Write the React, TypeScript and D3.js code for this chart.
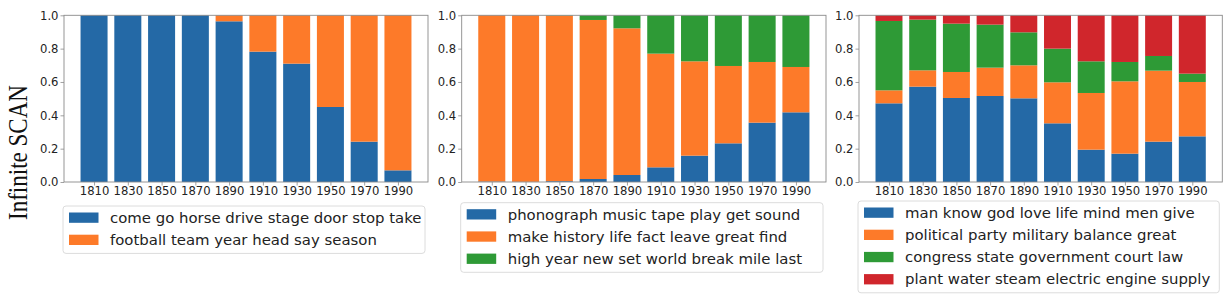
import React, { useEffect, useRef } from "react";
import * as d3 from "d3";

// decades on the x axis (same for all three panels)
const years = ["1810", "1830", "1850", "1870", "1890", "1910", "1930", "1950", "1970", "1990"];
const yTicks = [0, 0.2, 0.4, 0.6, 0.8, 1.0];

// panel 1 topics
const p1Labels = ["come go horse drive stage door stop take", "football team year head say season"];
const p1Blue = [1, 1, 1, 1, 0.964, 0.782, 0.71, 0.45, 0.242, 0.07];
const p1Orange = [0, 0, 0, 0, 0.036, 0.218, 0.29, 0.55, 0.758, 0.93];

// panel 2 topics
const p2Labels = [
  "phonograph music tape play get sound",
  "make history life fact leave great find",
  "high year new set world break mile last",
];
const p2Blue = [0.003, 0.001, 0.005, 0.018, 0.042, 0.088, 0.158, 0.232, 0.356, 0.418];
const p2Orange = [0.997, 0.999, 0.993, 0.954, 0.88, 0.682, 0.566, 0.464, 0.364, 0.272];
const p2Green = [0, 0, 0.002, 0.028, 0.078, 0.23, 0.276, 0.304, 0.28, 0.31];

// panel 3 topics
const p3Labels = [
  "man know god love life mind men give",
  "political party military balance great",
  "congress state government court law",
  "plant water steam electric engine supply",
];
const p3Blue = [0.472, 0.572, 0.504, 0.516, 0.502, 0.352, 0.194, 0.17, 0.242, 0.274];
const p3Orange = [0.078, 0.098, 0.156, 0.17, 0.198, 0.246, 0.34, 0.434, 0.426, 0.326];
const p3Green = [0.416, 0.304, 0.29, 0.258, 0.198, 0.202, 0.19, 0.116, 0.088, 0.05];
const p3Red = [0.034, 0.026, 0.05, 0.056, 0.102, 0.2, 0.276, 0.28, 0.244, 0.35];

// tab10, a bit darker like the scanned figure
const colors = ["#2469a6", "#fd7a29", "#2e9a36", "#d0262c"];

const W = 1232,
  H = 299;

function App() {
  const ref = useRef<SVGSVGElement>(null);

  useEffect(() => {
    const svg = d3.select(ref.current);
    svg.selectAll("*").remove();

    const top = 15.3,
      bottom = 182;

    const panels = [
      { left: 64, right: 428, series: [p1Blue, p1Orange], labels: p1Labels, legendTop: 206 },
      { left: 461.7, right: 826, series: [p2Blue, p2Orange, p2Green], labels: p2Labels, legendTop: 202.7 },
      { left: 859, right: 1222.3, series: [p3Blue, p3Orange, p3Green, p3Red], labels: p3Labels, legendTop: 201 },
    ];

    const y = d3.scaleLinear().domain([0, 1]).range([bottom, top]);

    panels.forEach((p) => {
      const g = svg.append("g");
      // matplotlib-like x limits: bars of width 0.8 plus 5% margin
      const x = d3.scaleLinear().domain([-0.89, 9.89]).range([p.left, p.right]);
      const bw = x(0.8) - x(0);

      const rows = years.map((yr, i) => {
        const r: any = { year: yr, idx: i };
        p.series.forEach((s, k) => (r["s" + k] = s[i]));
        return r;
      });
      const keys = p.series.map((_, k) => "s" + k);
      const stacked = d3.stack().keys(keys)(rows);

      stacked.forEach((layer, k) => {
        g.append("g")
          .attr("fill", colors[k])
          .selectAll("rect")
          .data(layer)
          .enter()
          .append("rect")
          .attr("x", (d: any) => x(d.data.idx) - bw / 2)
          .attr("width", bw)
          .attr("y", (d) => y(d[1]))
          .attr("height", (d) => Math.max(0, y(d[0]) - y(d[1])));
      });

      // spines
      g.append("rect")
        .attr("x", p.left)
        .attr("y", top)
        .attr("width", p.right - p.left)
        .attr("height", bottom - top)
        .attr("fill", "none")
        .attr("stroke", "#8a8a8a")
        .attr("stroke-width", 0.9);

      // Y axis
      const yAxis = g
        .append("g")
        .attr("transform", `translate(${p.left},0)`)
        .call(
          d3
            .axisLeft(y)
            .tickValues(yTicks)
            .tickFormat(d3.format(".1f"))
            .tickSize(3.5)
            .tickPadding(2)
        );

      // X axis
      const xAxis = g
        .append("g")
        .attr("transform", `translate(0,${bottom})`)
        .call(
          d3
            .axisBottom(x)
            .tickValues(d3.range(years.length))
            .tickFormat((d) => years[d as number])
            .tickSize(3.5)
            .tickPadding(1.5)
        );

      [yAxis, xAxis].forEach((ax) => {
        ax.select(".domain").remove();
        ax.selectAll("line").attr("stroke", "#8a8a8a").attr("stroke-width", 0.8);
        ax.selectAll("text")
          .attr("fill", "#222")
          .style("font-family", "'DejaVu Sans'")
          .style("font-size", "11.6px");
      });

      // legend
      const n = p.labels.length;
      const rowH = 22.2;
      const lg = g.append("g");
      lg.append("rect")
        .attr("x", p.left - 1)
        .attr("y", p.legendTop)
        .attr("width", p.right - p.left - 2)
        .attr("height", n * rowH + 3)
        .attr("rx", 3)
        .attr("fill", "white")
        .attr("stroke", "#dcdcdc")
        .attr("stroke-width", 1);

      p.labels.forEach((lab, k) => {
        const cy = p.legendTop + 11.5 + k * rowH;
        lg.append("rect")
          .attr("x", p.left + 5)
          .attr("y", cy - 5)
          .attr("width", 29.5)
          .attr("height", 10.3)
          .attr("fill", colors[k]);
        lg.append("text")
          .attr("x", p.left + 46)
          .attr("y", cy)
          .attr("dy", "0.36em")
          .attr("fill", "#222")
          .style("font-family", "'DejaVu Sans'")
          .style("font-size", "14.9px")
          .text(lab);
      });
    });

    // row label on the far left
    svg
      .append("text")
      .attr("transform", `translate(27,152.5) rotate(-90)`)
      .attr("text-anchor", "middle")
      .attr("fill", "#111")
      .style("font-family", "'Liberation Serif'")
      .style("font-size", "28px")
      .attr("textLength", 135)
      .attr("lengthAdjust", "spacingAndGlyphs")
      .text("Infinite SCAN");
  }, []);

  return (
    <svg
      ref={ref}
      width={W}
      height={H}
      style={{ position: "absolute", left: 0, top: 0, background: "white" }}
    />
  );
}

export default App;
